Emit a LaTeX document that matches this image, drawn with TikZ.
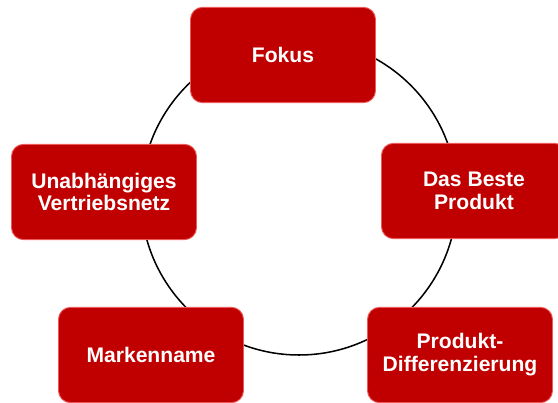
\documentclass[tikz,border=0pt]{standalone}
\usepackage{fontspec}
\setmainfont{Liberation Sans}
\usetikzlibrary{positioning}
\definecolor{boxRed}{RGB}{192,0,0}
\definecolor{edgeRed}{RGB}{236,90,90}

\begin{document}
\begin{tikzpicture}[
    x=0.03cm, y=-0.03cm,
    pillar/.style={rectangle, rounded corners=0.36cm, fill=boxRed, draw=edgeRed, line width=0.8pt, minimum width=5.55cm, minimum height=2.86cm, align=center, text=white, font=\fontsize{18}{19.5}\selectfont\bfseries},
    ring/.style={draw=black, line width=1.3pt}
]
\useasboundingbox (0,0) rectangle (558,403);

% ring behind the boxes
\coordinate (hub) at (299,197);
\draw[ring] (hub) circle[radius=158];

% boxes
\node[pillar] (fokus) at (283,55) {Fokus};
\node[pillar] (produkt) at (474,191) {Das Beste\\Produkt};
\node[pillar] (vertrieb) at (104,192) {Unabhängiges\\Vertriebsnetz};
\node[pillar] (marke) at (151,355) {Markenname};
\node[pillar] (differenz) at (460,355) {Produkt-\\Differenzierung};

\end{tikzpicture}
\end{document}
